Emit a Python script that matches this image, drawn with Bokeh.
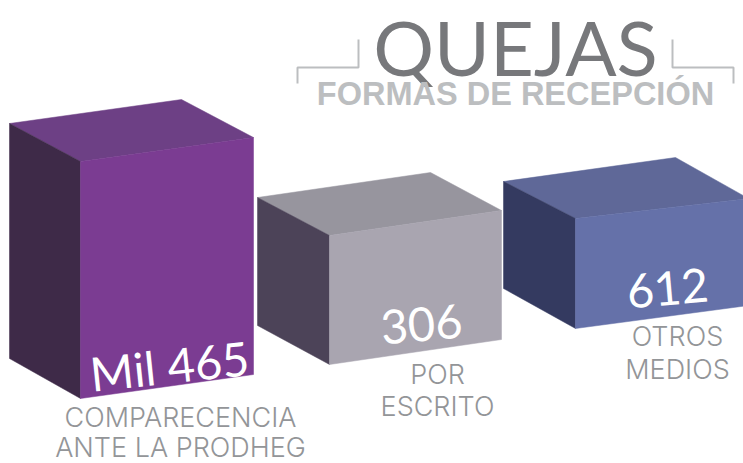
from bokeh.plotting import figure
from bokeh.models import Range1d
from bokeh.core.properties import value
from bokeh.embed import file_html
from bokeh.resources import INLINE

values = ["Mil 465", "306", "612"]
label_lines = [["COMPARECENCIA", "ANTE LA PRODHEG"], ["POR", "ESCRITO"], ["OTROS", "MEDIOS"]]
title = "QUEJAS"
subtitle = "FORMAS DE RECEPCIÓN"

# box corners: left-top, back-top, right-top, front-top,
# front-bottom, right-bottom, left-bottom
box_x = [[9, 181, 253, 80, 80, 253, 9],
         [257, 430, 501, 329, 329, 501, 257],
         [503, 675, 748, 575, 575, 748, 503]]
box_y = [[123, 99, 137, 161, 398, 374, 358],
         [197, 172, 210, 235, 364, 339, 325],
         [181, 157, 198, 218, 328, 305, 288]]
front_col = ["#7b3c92", "#a9a5b0", "#6571a9"]
side_col = ["#3e2a48", "#4c4358", "#343a60"]
top_col = ["#6d4085", "#97959e", "#5f6898"]
val_pos = [(169, 365, 6), (421, 324, 5), (667, 288, 5)]
val_size = ["47px", "47px", "47px"]
lab_pos = [(180, 417, 447), (437, 374, 406), (677, 336, 369)]

p = figure(width=743, height=463, x_range=Range1d(0, 743), y_range=Range1d(463, 0),
           output_backend="svg", toolbar_location=None, min_border=0,
           outline_line_color=None, background_fill_color="white")
p.axis.visible = False
p.grid.visible = False

for i in range(3):
    X, Y = box_x[i], box_y[i]
    p.patch([X[0], X[1], X[2], X[3]], [Y[0], Y[1], Y[2], Y[3]], fill_color=top_col[i], line_color=top_col[i], line_width=0.5)
    p.patch([X[0], X[3], X[4], X[6]], [Y[0], Y[3], Y[4], Y[6]], fill_color=side_col[i], line_color=side_col[i], line_width=0.5)
    p.patch([X[3], X[2], X[5], X[4]], [Y[3], Y[2], Y[5], Y[4]], fill_color=front_col[i], line_color=front_col[i], line_width=0.5)
    vx, vy, va = val_pos[i]
    p.text([vx], [vy], text=[values[i]], angle=va, angle_units="deg", text_color="white",
           text_font=value("Lato"), text_font_size=val_size[i], text_align="center", text_baseline="middle")
    lx, ly1, ly2 = lab_pos[i]
    for txt, ly in zip(label_lines[i], (ly1, ly2)):
        p.text([lx], [ly], text=[txt], text_color="#939598", text_font=value("Inter Light, Inter"),
               text_font_size="27px", text_align="center", text_baseline="middle")

p.text([515], [46], text=[title], text_color="#77787b", text_font=value("Lato"),
       text_font_size="76px", text_align="center", text_baseline="middle")
p.text([515], [93], text=[subtitle], text_color="#bcbec0", text_font=value("Liberation Sans"),
       text_font_style="bold", text_font_size="32.5px", text_align="center", text_baseline="middle")
p.line([358, 358, 297, 297], [39, 67, 67, 83], line_color="#bcbec0", line_width=2)
p.line([672, 672, 733, 733], [39, 67, 67, 83], line_color="#bcbec0", line_width=2)

open("out.html", "w").write(file_html(p, INLINE))
